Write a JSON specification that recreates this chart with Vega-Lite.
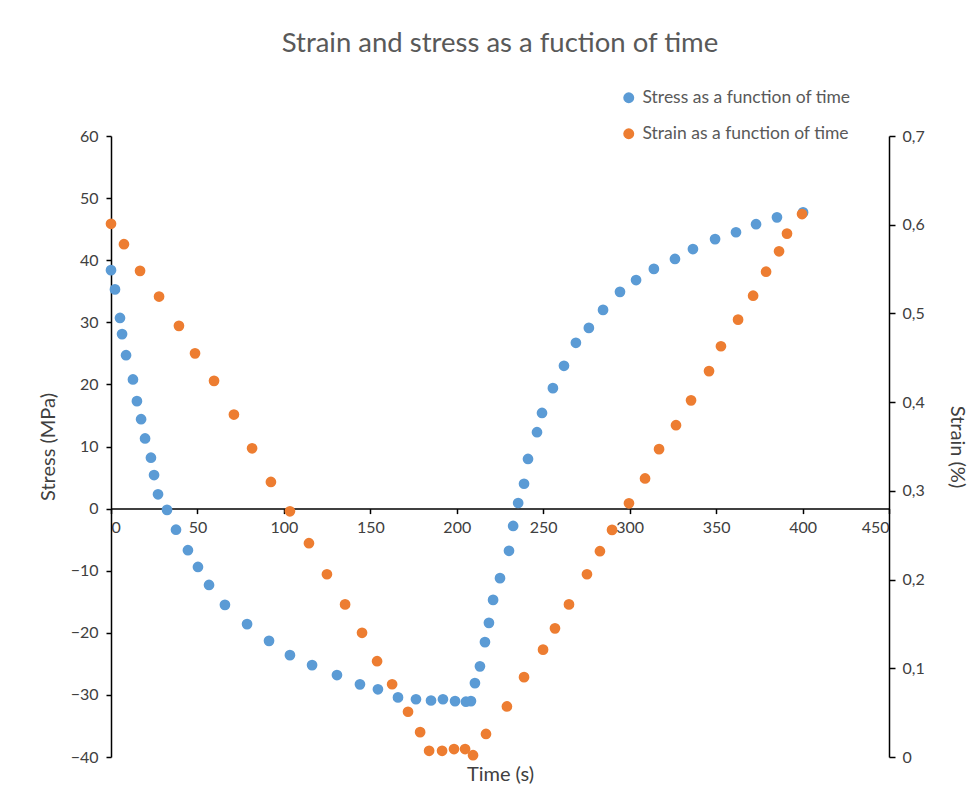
{
  "$schema": "https://vega.github.io/schema/vega-lite/v6.json",
  "autosize": "none",
  "width": 778,
  "height": 621,
  "padding": {"left": 111, "top": 136, "right": 90, "bottom": 55},
  "background": "white",
  "title": {"text": "Strain and stress as a fuction of time", "font": "Lato", "fontSize": 27.5, "fontWeight": "normal", "color": "#595959", "anchor": "middle", "offset": 32},
  "config": {
    "view": {"stroke": null},
    "axis": {"labelFont": "Lato", "labelFontSize": 16, "labelColor": "#404040", "titleFont": "Lato", "titleFontSize": 20, "titleFontWeight": "normal", "titleColor": "#404040", "domainColor": "#000000", "domainWidth": 1.5, "tickColor": "#000000", "tickWidth": 1.5, "grid": false},
    "legend": {"labelFont": "Lato", "labelFontSize": 17.5, "labelColor": "#595959", "labelLimit": 400}
  },
  "data": {"values": [
    {"series": "Stress as a function of time", "t": 0, "v": 38.4},
    {"series": "Stress as a function of time", "t": 2.3, "v": 35.3},
    {"series": "Stress as a function of time", "t": 5.2, "v": 30.7},
    {"series": "Stress as a function of time", "t": 6.4, "v": 28.1},
    {"series": "Stress as a function of time", "t": 8.7, "v": 24.7},
    {"series": "Stress as a function of time", "t": 12.7, "v": 20.8},
    {"series": "Stress as a function of time", "t": 15, "v": 17.3},
    {"series": "Stress as a function of time", "t": 17.4, "v": 14.4},
    {"series": "Stress as a function of time", "t": 19.7, "v": 11.3},
    {"series": "Stress as a function of time", "t": 23.1, "v": 8.2},
    {"series": "Stress as a function of time", "t": 24.9, "v": 5.4},
    {"series": "Stress as a function of time", "t": 27.2, "v": 2.3},
    {"series": "Stress as a function of time", "t": 32.4, "v": -0.2},
    {"series": "Stress as a function of time", "t": 37.6, "v": -3.4},
    {"series": "Stress as a function of time", "t": 44.5, "v": -6.7},
    {"series": "Stress as a function of time", "t": 50.3, "v": -9.4},
    {"series": "Stress as a function of time", "t": 56.7, "v": -12.3},
    {"series": "Stress as a function of time", "t": 65.9, "v": -15.5},
    {"series": "Stress as a function of time", "t": 78.7, "v": -18.6},
    {"series": "Stress as a function of time", "t": 91.4, "v": -21.3},
    {"series": "Stress as a function of time", "t": 103.5, "v": -23.6},
    {"series": "Stress as a function of time", "t": 116.3, "v": -25.2},
    {"series": "Stress as a function of time", "t": 130.7, "v": -26.8},
    {"series": "Stress as a function of time", "t": 144, "v": -28.3},
    {"series": "Stress as a function of time", "t": 154.4, "v": -29.1},
    {"series": "Stress as a function of time", "t": 166, "v": -30.4},
    {"series": "Stress as a function of time", "t": 176.4, "v": -30.7},
    {"series": "Stress as a function of time", "t": 185.1, "v": -30.9},
    {"series": "Stress as a function of time", "t": 192, "v": -30.7},
    {"series": "Stress as a function of time", "t": 199, "v": -31.0},
    {"series": "Stress as a function of time", "t": 205.3, "v": -31.1},
    {"series": "Stress as a function of time", "t": 208.2, "v": -31.0},
    {"series": "Stress as a function of time", "t": 210.5, "v": -28.1},
    {"series": "Stress as a function of time", "t": 213.4, "v": -25.4},
    {"series": "Stress as a function of time", "t": 216.3, "v": -21.5},
    {"series": "Stress as a function of time", "t": 218.6, "v": -18.4},
    {"series": "Stress as a function of time", "t": 221, "v": -14.7},
    {"series": "Stress as a function of time", "t": 225, "v": -11.2},
    {"series": "Stress as a function of time", "t": 230.2, "v": -6.8},
    {"series": "Stress as a function of time", "t": 232.6, "v": -2.8},
    {"series": "Stress as a function of time", "t": 235.5, "v": 0.9},
    {"series": "Stress as a function of time", "t": 238.9, "v": 4.0},
    {"series": "Stress as a function of time", "t": 241.2, "v": 8.0},
    {"series": "Stress as a function of time", "t": 246.4, "v": 12.3},
    {"series": "Stress as a function of time", "t": 249.3, "v": 15.4},
    {"series": "Stress as a function of time", "t": 255.6, "v": 19.4},
    {"series": "Stress as a function of time", "t": 262, "v": 23.0},
    {"series": "Stress as a function of time", "t": 268.9, "v": 26.7},
    {"series": "Stress as a function of time", "t": 276.4, "v": 29.1},
    {"series": "Stress as a function of time", "t": 284.6, "v": 32.0},
    {"series": "Stress as a function of time", "t": 294.4, "v": 34.9},
    {"series": "Stress as a function of time", "t": 303.7, "v": 36.8},
    {"series": "Stress as a function of time", "t": 314, "v": 38.6},
    {"series": "Stress as a function of time", "t": 326.2, "v": 40.2},
    {"series": "Stress as a function of time", "t": 336.6, "v": 41.8},
    {"series": "Stress as a function of time", "t": 349.4, "v": 43.4},
    {"series": "Stress as a function of time", "t": 361.5, "v": 44.5},
    {"series": "Stress as a function of time", "t": 373.1, "v": 45.8},
    {"series": "Stress as a function of time", "t": 385.2, "v": 46.9},
    {"series": "Stress as a function of time", "t": 400.3, "v": 47.7},
    {"series": "Strain as a function of time", "t": 0, "v": 0.601},
    {"series": "Strain as a function of time", "t": 7.5, "v": 0.578},
    {"series": "Strain as a function of time", "t": 16.8, "v": 0.548},
    {"series": "Strain as a function of time", "t": 27.8, "v": 0.519},
    {"series": "Strain as a function of time", "t": 39.3, "v": 0.486},
    {"series": "Strain as a function of time", "t": 48.6, "v": 0.455},
    {"series": "Strain as a function of time", "t": 59.6, "v": 0.424},
    {"series": "Strain as a function of time", "t": 71.1, "v": 0.386},
    {"series": "Strain as a function of time", "t": 81.6, "v": 0.348},
    {"series": "Strain as a function of time", "t": 92.5, "v": 0.31},
    {"series": "Strain as a function of time", "t": 103.5, "v": 0.277},
    {"series": "Strain as a function of time", "t": 114.5, "v": 0.241},
    {"series": "Strain as a function of time", "t": 124.9, "v": 0.206},
    {"series": "Strain as a function of time", "t": 135.4, "v": 0.172},
    {"series": "Strain as a function of time", "t": 145.2, "v": 0.14},
    {"series": "Strain as a function of time", "t": 153.9, "v": 0.108},
    {"series": "Strain as a function of time", "t": 162.6, "v": 0.082},
    {"series": "Strain as a function of time", "t": 171.8, "v": 0.051},
    {"series": "Strain as a function of time", "t": 178.8, "v": 0.028},
    {"series": "Strain as a function of time", "t": 184, "v": 0.007},
    {"series": "Strain as a function of time", "t": 191.5, "v": 0.007},
    {"series": "Strain as a function of time", "t": 198.4, "v": 0.009},
    {"series": "Strain as a function of time", "t": 204.8, "v": 0.009},
    {"series": "Strain as a function of time", "t": 209.4, "v": 0.002},
    {"series": "Strain as a function of time", "t": 216.9, "v": 0.026},
    {"series": "Strain as a function of time", "t": 229, "v": 0.057},
    {"series": "Strain as a function of time", "t": 238.9, "v": 0.09},
    {"series": "Strain as a function of time", "t": 249.9, "v": 0.121},
    {"series": "Strain as a function of time", "t": 256.8, "v": 0.145},
    {"series": "Strain as a function of time", "t": 264.9, "v": 0.172},
    {"series": "Strain as a function of time", "t": 275.3, "v": 0.206},
    {"series": "Strain as a function of time", "t": 282.8, "v": 0.232},
    {"series": "Strain as a function of time", "t": 289.8, "v": 0.256},
    {"series": "Strain as a function of time", "t": 299.6, "v": 0.286},
    {"series": "Strain as a function of time", "t": 308.9, "v": 0.314},
    {"series": "Strain as a function of time", "t": 317, "v": 0.347},
    {"series": "Strain as a function of time", "t": 326.8, "v": 0.374},
    {"series": "Strain as a function of time", "t": 335.5, "v": 0.402},
    {"series": "Strain as a function of time", "t": 345.9, "v": 0.435},
    {"series": "Strain as a function of time", "t": 352.8, "v": 0.463},
    {"series": "Strain as a function of time", "t": 362.7, "v": 0.493},
    {"series": "Strain as a function of time", "t": 371.4, "v": 0.52},
    {"series": "Strain as a function of time", "t": 378.9, "v": 0.547},
    {"series": "Strain as a function of time", "t": 386.4, "v": 0.57},
    {"series": "Strain as a function of time", "t": 391, "v": 0.59},
    {"series": "Strain as a function of time", "t": 399.7, "v": 0.612}
  ]},
  "encoding": {
    "x": {"field": "t", "type": "quantitative", "scale": {"domain": [0, 450], "nice": false, "zero": false},
      "axis": {"title": "Time (s)", "values": [0, 50, 100, 150, 200, 250, 300, 350, 400, 450], "offset": -248.4, "tickSize": 5, "labelPadding": 6, "titleY": 266, "titleBaseline": "middle"}},
    "color": {"field": "series", "type": "nominal",
      "scale": {"domain": ["Stress as a function of time", "Strain as a function of time"], "range": ["#5B9BD5", "#ED7D31"]},
      "legend": {"title": null, "orient": "none", "legendX": 509, "legendY": -47, "symbolType": "circle", "symbolSize": 120, "symbolStrokeWidth": 0, "rowPadding": 17, "labelOffset": 5, "padding": 0}}
  },
  "layer": [
    {
      "transform": [{"filter": "datum.series === 'Stress as a function of time'"}],
      "mark": {"type": "point", "filled": true, "opacity": 1, "size": 115},
      "encoding": {
        "y": {"field": "v", "type": "quantitative", "scale": {"domain": [-40, 60], "nice": false, "zero": false},
          "axis": {"title": "Stress (MPa)", "orient": "left", "values": [-40, -30, -20, -10, 0, 10, 20, 30, 40, 50, 60], "tickSize": 5, "labelPadding": 8, "titlePadding": 12}}
      }
    },
    {
      "transform": [{"filter": "datum.series === 'Strain as a function of time'"}],
      "mark": {"type": "point", "filled": true, "opacity": 1, "size": 115},
      "encoding": {
        "y": {"field": "v", "type": "quantitative", "scale": {"domain": [0, 0.7], "nice": false, "zero": false},
          "axis": {"title": "Strain (%)", "orient": "right", "values": [0, 0.1, 0.2, 0.3, 0.4, 0.5, 0.6, 0.7], "tickSize": 6, "labelPadding": 7, "titlePadding": 22,
            "labelExpr": "datum.value == 0 ? '0' : replace(format(datum.value, '.1f'), '.', ',')"}}
      }
    }
  ],
  "resolve": {"scale": {"y": "independent"}}
}
